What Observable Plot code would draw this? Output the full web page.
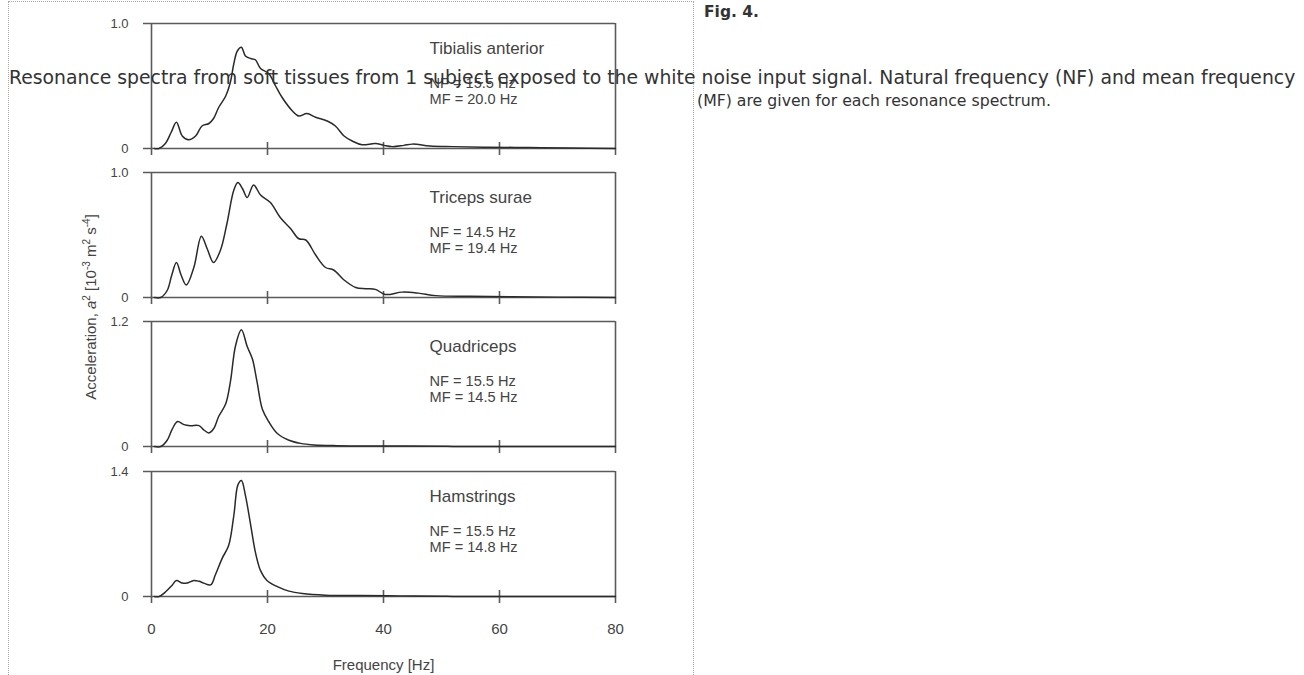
<!DOCTYPE html>
<html>
<head>
<meta charset="utf-8">
<script src="https://cdn.jsdelivr.net/npm/d3@7"></script>
<script src="https://cdn.jsdelivr.net/npm/@observablehq/plot@0.6"></script>
<style>
  html, body { margin: 0; padding: 0; background: #fff; }
  body { width: 1304px; height: 675px; overflow: hidden; position: relative; font-family: "DejaVu Sans", sans-serif; }
  #frame { position: absolute; left: 8px; top: 1px; width: 686px; height: 720px; border: 1px dotted #a8a8a8; box-sizing: border-box; }
  .panel { position: absolute; left: 0; }
  #ylab { position: absolute; left: 91px; top: 307px; transform: translate(-50%, -50%) rotate(-90deg); white-space: nowrap;
          font-family: "Liberation Sans", Arial, sans-serif; font-size: 15px; color: #444; line-height: 16px; }
  #ylab sup { font-size: 10px; line-height: 0; }
  .cap { position: absolute; color: #333; font-size: 16px; line-height: 24px; white-space: nowrap; }
  #capTitle { left: 704px; top: 0px; font-weight: bold; }
  #cap1 { left: 9px; top: 66px; }
  #cap2 { left: 697px; top: 89px; }
</style>
</head>
<body>
<div id="frame"></div>
<div id="charts"></div>
<div id="ylab">Acceleration, <i>a</i><sup>2</sup> [10<sup>-3</sup> m<sup>2</sup> s<sup>-4</sup>]</div>
<div class="cap" id="capTitle">Fig. 4.</div>
<div class="cap" id="cap1">Resonance spectra from soft tissues from 1 subject exposed to the white noise input signal. Natural frequency (NF) and mean frequency</div>
<div class="cap" id="cap2">(MF) are given for each resonance spectrum.</div>
<script>
// ---- data ----
const muscleNames = ["Tibialis anterior", "Triceps surae", "Quadriceps", "Hamstrings"];
const nfLabels = ["NF = 15.5 Hz", "NF = 14.5 Hz", "NF = 15.5 Hz", "NF = 15.5 Hz"];
const mfLabels = ["MF = 20.0 Hz", "MF = 19.4 Hz", "MF = 14.5 Hz", "MF = 14.8 Hz"];
const yMaxes = [1.0, 1.0, 1.2, 1.4];
const xTicks = [0, 20, 40, 60, 80];
const xLabel = "Frequency [Hz]";

const tibFreq = [0.5, 1.3, 2.4, 3.4, 4.3, 5.3, 6.4, 7.6, 8.7, 9.9, 10.7, 11.6, 12.8, 13.6, 14.2, 14.8, 15.5, 16.2, 17.1, 17.9, 18.8, 20.2, 21.4, 22.5, 24.3, 25.4, 26.8, 28.3, 30.3, 31.7, 33.2, 34.6, 36.3, 38.6, 40.1, 41.5, 43.5, 45, 48, 52, 58, 65, 72, 80];
const tibAcc  = [0, 0, 0.04, 0.13, 0.21, 0.10, 0.07, 0.10, 0.18, 0.20, 0.24, 0.33, 0.42, 0.53, 0.68, 0.78, 0.81, 0.74, 0.72, 0.71, 0.64, 0.60, 0.50, 0.41, 0.30, 0.26, 0.28, 0.25, 0.22, 0.18, 0.10, 0.06, 0.03, 0.04, 0.025, 0.015, 0.025, 0.035, 0.02, 0.015, 0.01, 0.008, 0.004, 0];

const triFreq = [0.5, 1.6, 2.7, 3.5, 4.3, 5.1, 6.0, 7.3, 8.6, 9.6, 10.7, 11.9, 13.0, 14.2, 14.9, 15.7, 16.5, 17.6, 18.8, 20.5, 22.2, 24.0, 25.4, 26.6, 28.3, 30.0, 31.4, 33.2, 35.2, 36.9, 38.6, 40.3, 43.2, 46, 49, 55, 62, 70, 80];
const triAcc  = [0, 0, 0.056, 0.18, 0.28, 0.18, 0.10, 0.24, 0.49, 0.39, 0.28, 0.38, 0.59, 0.86, 0.92, 0.87, 0.80, 0.90, 0.82, 0.76, 0.64, 0.55, 0.47, 0.46, 0.34, 0.24, 0.22, 0.14, 0.08, 0.07, 0.065, 0.024, 0.043, 0.035, 0.015, 0.01, 0.006, 0.003, 0];

const quaFreq = [0.5, 1.6, 2.7, 3.6, 4.5, 5.6, 6.7, 8.2, 9.0, 9.9, 10.7, 11.6, 12.8, 13.6, 14.5, 15.5, 16.5, 17.4, 18.2, 19.1, 20.2, 21.7, 23.7, 25.7, 28, 32, 40, 50, 52, 80];
const quaAcc  = [0, 0, 0.06, 0.17, 0.24, 0.21, 0.20, 0.20, 0.16, 0.13, 0.17, 0.29, 0.41, 0.62, 0.97, 1.12, 0.96, 0.84, 0.62, 0.36, 0.24, 0.125, 0.06, 0.03, 0.015, 0.008, 0.005, 0.003, 0, 0];

const hamFreq = [0.5, 1.3, 2.4, 3.6, 4.3, 5.3, 6.1, 7.3, 8.2, 9.0, 10.2, 11.0, 12.2, 13.3, 14.2, 14.9, 15.5, 16.2, 17.1, 17.9, 18.8, 19.9, 21.7, 23.7, 26, 30, 36, 43, 50, 52, 80];
const hamAcc  = [0, 0, 0.05, 0.13, 0.18, 0.15, 0.15, 0.18, 0.17, 0.15, 0.13, 0.24, 0.43, 0.57, 0.91, 1.25, 1.30, 1.13, 0.80, 0.50, 0.29, 0.18, 0.11, 0.06, 0.034, 0.015, 0.01, 0.007, 0.003, 0, 0];

const freqs = [tibFreq, triFreq, quaFreq, hamFreq];
const accs = [tibAcc, triAcc, quaAcc, hamAcc];

// ---- layout ----
const panelTops = [23, 172, 321, 471];
const mTop = 20, plotH = 125;
const frameColor = "#5a5a5a", lineColor = "#2a2a2a", textColor = "#444";

function panel(i) {
  const last = i === muscleNames.length - 1;
  const mBottom = last ? 80 : 12;
  const yMax = yMaxes[i];
  const data = freqs[i].map((f, j) => ({f, a: accs[i][j]}));
  return Plot.plot({
    width: 640,
    height: mTop + plotH + mBottom,
    marginLeft: 151, marginRight: 25, marginTop: mTop, marginBottom: mBottom,
    x: {domain: [xTicks[0], xTicks[xTicks.length - 1]], axis: null},
    y: {domain: [0, yMax], axis: null},
    style: {background: "transparent", overflow: "visible", fontFamily: "'Liberation Sans', Arial, sans-serif", color: textColor},
    marks: [
      Plot.ruleY([0, yMax], {stroke: frameColor, strokeWidth: 1.6, insetLeft: -8}),
      Plot.ruleX([xTicks[0], xTicks[xTicks.length - 1]], {stroke: frameColor, strokeWidth: 1.6, insetBottom: -7}),
      Plot.ruleX(xTicks.slice(1, -1), {y1: 0, y2: 0, insetTop: -6, insetBottom: -7, stroke: frameColor, strokeWidth: 1.6}),
      Plot.axisY([0, yMax], {tickSize: 0, tickPadding: 23, fontSize: 13, label: null,
        tickFormat: d => d === 0 ? "0" : d.toFixed(1)}),
      last ? Plot.axisX(xTicks, {tickSize: 0, tickPadding: 27, fontSize: 15, label: null}) : null,
      last ? Plot.text([xLabel], {frameAnchor: "bottom", dy: 69, lineAnchor: "middle", fontSize: 15, fill: textColor}) : null,
      Plot.line(data, {x: "f", y: "a", curve: "catmull-rom", stroke: lineColor, strokeWidth: 1.5}),
      Plot.text([muscleNames[i]], {frameAnchor: "top-left", dx: 278, dy: 25, lineAnchor: "middle", textAnchor: "start", fontSize: 17, fill: textColor}),
      Plot.text([nfLabels[i]], {frameAnchor: "top-left", dx: 278, dy: 59.5, lineAnchor: "middle", textAnchor: "start", fontSize: 14.6, fill: textColor}),
      Plot.text([mfLabels[i]], {frameAnchor: "top-left", dx: 278, dy: 75.5, lineAnchor: "middle", textAnchor: "start", fontSize: 14.6, fill: textColor})
    ].filter(Boolean)
  });
}

const host = document.getElementById("charts");
muscleNames.forEach((_, i) => {
  const wrap = document.createElement("div");
  wrap.className = "panel";
  wrap.style.top = (panelTops[i] - mTop) + "px";
  wrap.appendChild(panel(i));
  host.appendChild(wrap);
});

// fit caption lines to the widths they take in the reference page
function fitWidth(id, target) {
  const el = document.getElementById(id);
  const base = 16;
  el.style.fontSize = base + "px";
  const w = el.getBoundingClientRect().width;
  el.style.fontSize = (base * target / w).toFixed(2) + "px";
}
fitWidth("cap1", 1287);
fitWidth("cap2", 354);
fitWidth("capTitle", 55);
</script>
</body>
</html>
